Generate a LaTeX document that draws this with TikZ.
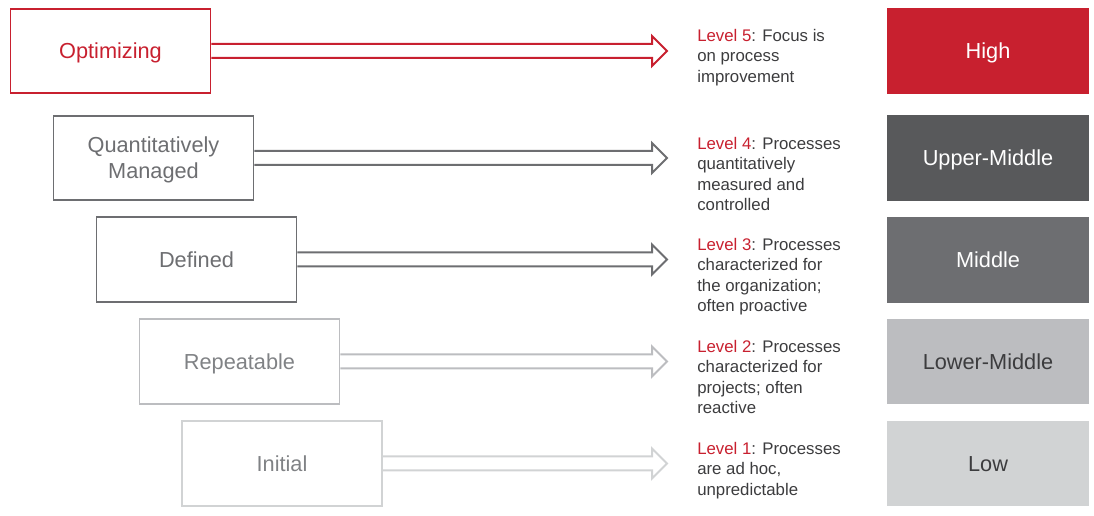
\documentclass[tikz,border=0pt]{standalone}
\usepackage{fontspec}
\setmainfont{Liberation Sans}
\usepackage{xcolor}
\usetikzlibrary{positioning, calc}
\definecolor{optred}{HTML}{C8202F}
\definecolor{darkgray}{HTML}{58595B}
\definecolor{midgray}{HTML}{6D6E71}
\definecolor{textgray}{HTML}{808285}
\definecolor{lightgray}{HTML}{BCBDC0}
\definecolor{palegray}{HTML}{D1D3D4}
\definecolor{inkgray}{HTML}{3C3C3E}

\begin{document}
\begin{tikzpicture}[x=0.75pt, y=0.75pt,
    stage/.style={draw, line width=1.4pt, minimum width=150pt, minimum height=63.5pt,
          align=center, font=\fontsize{16.3}{19.5}\selectfont, inner sep=0pt},
    oneline/.style={text height=11.7pt, text depth=0pt},
    twolines/.style={text height=31.2pt, text depth=0pt},
    rating/.style={fill=#1, minimum width=151pt, minimum height=64pt, inner sep=0pt,
          font=\fontsize{16.3}{19.5}\selectfont, text height=11.7pt, text depth=0pt},
    note/.style={anchor=north west, inner sep=0pt, align=left, text=inkgray,
          font=\fontsize{12.6}{15.4}\selectfont},
    hollow/.style={draw=#1, line width=1.5pt, line join=miter}]
    \useasboundingbox (0,0) rectangle (1094,516);

    % maturity levels
    \node[stage, oneline, draw=optred, text=optred] (opt) at (110.5,465) {Optimizing};
    \node[stage, twolines, draw=midgray, text=midgray] (qm) at (153.5,358) {Quantitatively\\Managed};
    \node[stage, oneline, draw=midgray, text=midgray] (def) at (196.5,256.5) {Defined};
    \node[stage, oneline, draw=lightgray, text=textgray] (rep) at (239.5,154.5) {Repeatable};
    \node[stage, oneline, draw=palegray, text=textgray] (ini) at (282,52.5) {Initial};

    % arrow tips
    \coordinate (t5) at (667,465);
    \coordinate (t4) at (667,358);
    \coordinate (t3) at (667,256.5);
    \coordinate (t2) at (667,154.5);
    \coordinate (t1) at (667,52.5);

    \foreach \src/\tip/\col in {opt/t5/optred, qm/t4/midgray, def/t3/midgray,
                                rep/t2/lightgray, ini/t1/palegray}
      \draw[hollow=\col] ($(\src.east)+(0,7)$) -- ($(\tip)+(-15,7)$) -- ($(\tip)+(-15,15)$)
        -- (\tip) -- ($(\tip)+(-15,-15)$) -- ($(\tip)+(-15,-7)$) -- ($(\src.east)+(0,-7)$);

    % descriptions
    \node[note] (d5) at (697,487.4) {\textcolor{optred}{Level 5}: Focus is\\on process\\improvement};
    \node[note] (d4) at (697,379.4) {\textcolor{optred}{Level 4}: Processes\\quantitatively\\measured and\\controlled};
    \node[note] (d3) at (697,278.4) {\textcolor{optred}{Level 3}: Processes\\characterized for\\the organization;\\often proactive};
    \node[note] (d2) at (697,176.4) {\textcolor{optred}{Level 2}: Processes\\characterized for\\projects; often\\reactive};
    \node[note] (d1) at (697,74.4) {\textcolor{optred}{Level 1}: Processes\\are ad hoc,\\unpredictable};

    % ratings
    \node[rating=optred, text=white] (r5) at (988,465) {High};
    \node[rating=darkgray, text=white] (r4) at (988,358) {Upper-Middle};
    \node[rating=midgray, text=white] (r3) at (988,256) {Middle};
    \node[rating=lightgray, text=inkgray] (r2) at (988,154.5) {Lower-Middle};
    \node[rating=palegray, text=inkgray] (r1) at (988,52.5) {Low};
  \end{tikzpicture}
\end{document}
